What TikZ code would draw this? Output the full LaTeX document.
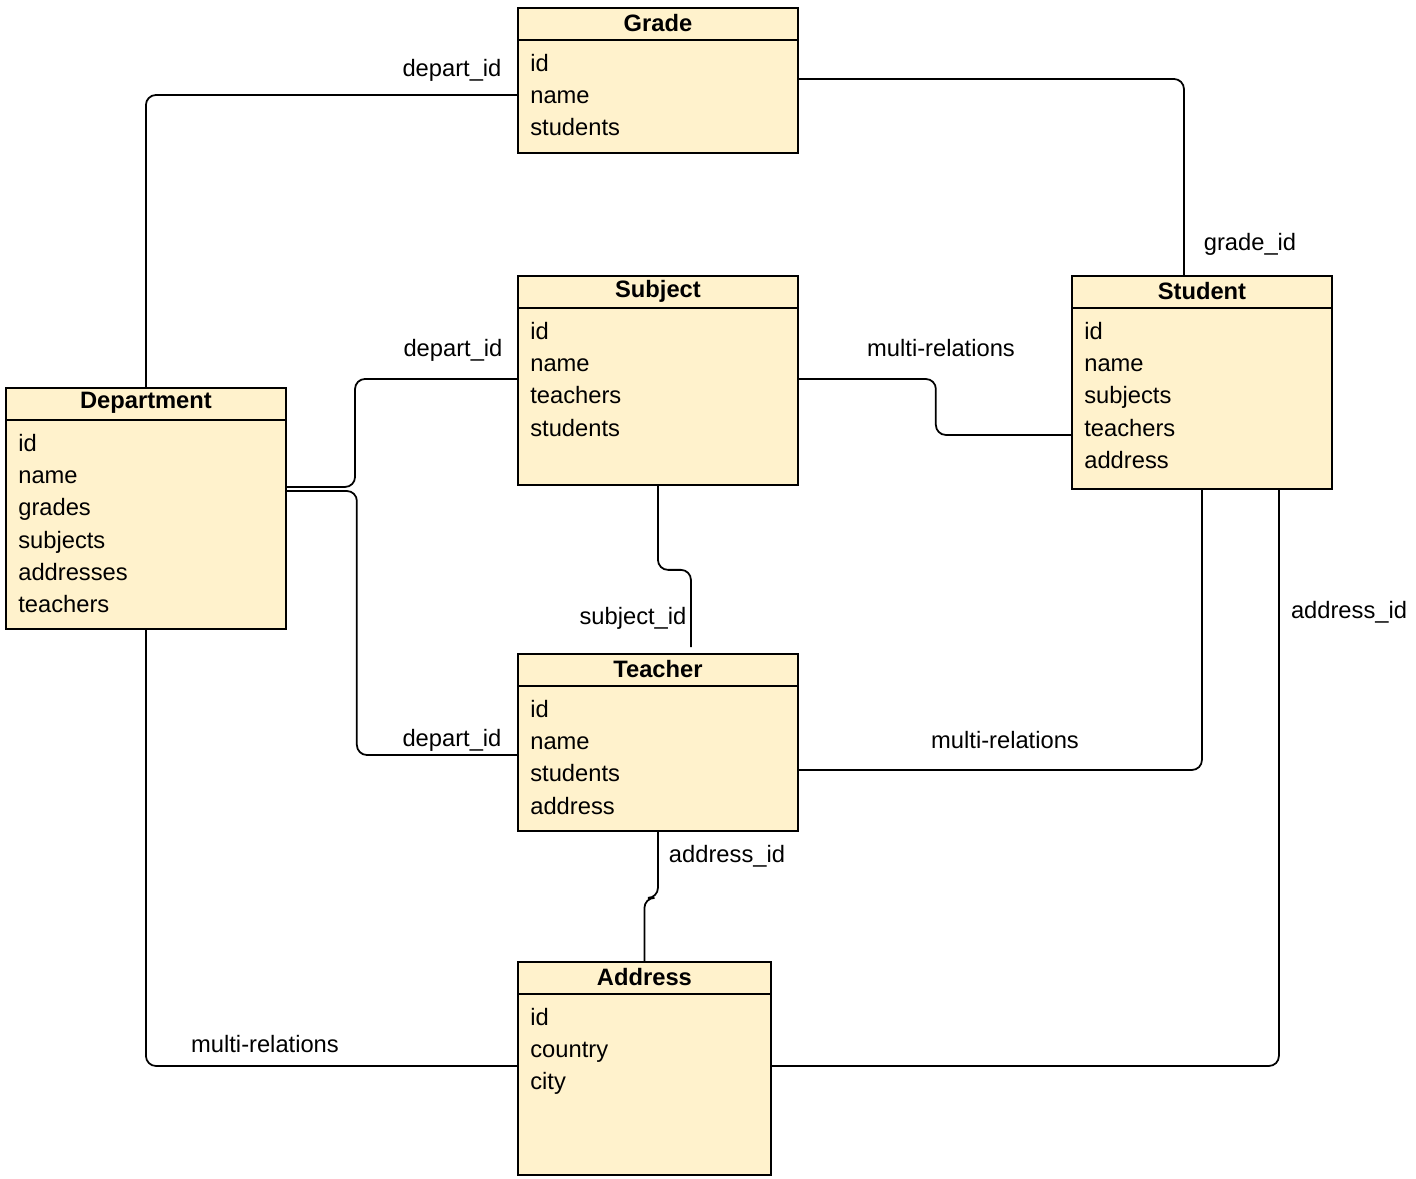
\documentclass[tikz,border=0pt]{standalone}
\usepackage{fontspec}
\setmainfont{Liberation Sans}
\usetikzlibrary{positioning,calc}
\definecolor{tablefill}{HTML}{FFF2CC}

\begin{document}
\begin{tikzpicture}[
    x=0.02cm, y=-0.02cm,
    font=\fontsize{13.5}{18.4}\selectfont,
    entity/.style={rectangle, draw, line width=1.1pt, fill=tablefill, anchor=north west, inner sep=0pt},
    title/.style={font=\fontsize{13.5}{16}\selectfont\bfseries},
    fields/.style={anchor=north west, align=left, inner sep=0pt},
    headline/.style={line width=1.1pt},
    link/.style={line width=1pt, rounded corners=0.2cm},
    lbl/.style={inner sep=1pt}
]
\useasboundingbox (0,0) rectangle (1416,1179);

% Tabellen
\node[entity, minimum width=5.6cm, minimum height=2.9cm] (grade) at (517,7) {};
\node[entity, minimum width=5.6cm, minimum height=4.18cm] (subject) at (517,275) {};
\node[entity, minimum width=5.2cm, minimum height=4.26cm] (student) at (1071,275) {};
\node[entity, minimum width=5.6cm, minimum height=4.82cm] (department) at (5,387) {};
\node[entity, minimum width=5.6cm, minimum height=3.54cm] (teacher) at (517,653) {};
\node[entity, minimum width=5.06cm, minimum height=4.26cm] (address) at (517,961) {};

% Kopfzeilen
\foreach \t in {grade,subject,student,department,teacher,address}
    \draw[headline] ([yshift=-0.66cm]\t.north west) -- ([yshift=-0.66cm]\t.north east);

\node[title] (gradeT) at ([yshift=-0.32cm]grade.north) {Grade};
\node[title] (subjectT) at ([yshift=-0.32cm]subject.north) {Subject};
\node[title] (studentT) at ([yshift=-0.32cm]student.north) {Student};
\node[title] (departmentT) at ([yshift=-0.32cm]department.north) {Department};
\node[title] (teacherT) at ([yshift=-0.32cm]teacher.north) {Teacher};
\node[title] (addressT) at ([yshift=-0.32cm]address.north) {Address};

% Felder
\node[fields] (gradeF) at ([xshift=0.26cm,yshift=-0.93cm]grade.north west) {id\\name\\students};
\node[fields] (subjectF) at ([xshift=0.26cm,yshift=-0.93cm]subject.north west) {id\\name\\teachers\\students};
\node[fields] (studentF) at ([xshift=0.26cm,yshift=-0.93cm]student.north west) {id\\name\\subjects\\teachers\\address};
\node[fields] (departmentF) at ([xshift=0.26cm,yshift=-0.93cm]department.north west) {id\\name\\grades\\subjects\\addresses\\teachers};
\node[fields] (teacherF) at ([xshift=0.26cm,yshift=-0.93cm]teacher.north west) {id\\name\\students\\address};
\node[fields] (addressF) at ([xshift=0.26cm,yshift=-0.93cm]address.north west) {id\\country\\city};

% Beziehungen
\draw[link] (department.north) |- ([yshift=-1.76cm]grade.north west);
\draw[link] ([yshift=-1.44cm]grade.north east) -| ([xshift=-0.36cm]student.north);
\draw[link] ([yshift=-2.08cm]subject.north west) -- ++(-3.24cm,0) |- ([yshift=-2.0cm]department.north east);
\draw[link] ([yshift=-2.08cm]department.north east) -- ++(1.4cm,0) |- ([yshift=-2.04cm]teacher.north west);
\draw[link] ([yshift=-2.08cm]subject.north east) -- ++(2.74cm,0) |- ([yshift=-3.2cm]student.north west);
\draw[link] (subject.south) -- ++(0,-1.68cm) -| ([xshift=0.66cm,yshift=0.12cm]teacher.north);
\draw[link] ([yshift=-2.34cm]teacher.north east) -| (student.south);
\draw[link] (teacher.south) -- ++(0,-1.32cm) -| (address.north);
\draw[link] (department.south) |- ([yshift=-2.1cm]address.north west);
\draw[link] ([yshift=-2.1cm]address.north east) -| ([xshift=1.54cm]student.south);

% Beschriftungen
\node[lbl] (l1) at (452,70) {depart\_id};
\node[lbl] (l2) at (1250,244) {grade\_id};
\node[lbl] (l3) at (453,350) {depart\_id};
\node[lbl] (l4) at (941,348) {multi-relations};
\node[lbl] (l5) at (633,618) {subject\_id};
\node[lbl] (l6) at (452,740) {depart\_id};
\node[lbl] (l7) at (1005,740) {multi-relations};
\node[lbl] (l8) at (727,856) {address\_id};
\node[lbl] (l9) at (1349,612) {address\_id};
\node[lbl] (l10) at (265,1044) {multi-relations};

\end{tikzpicture}
\end{document}
